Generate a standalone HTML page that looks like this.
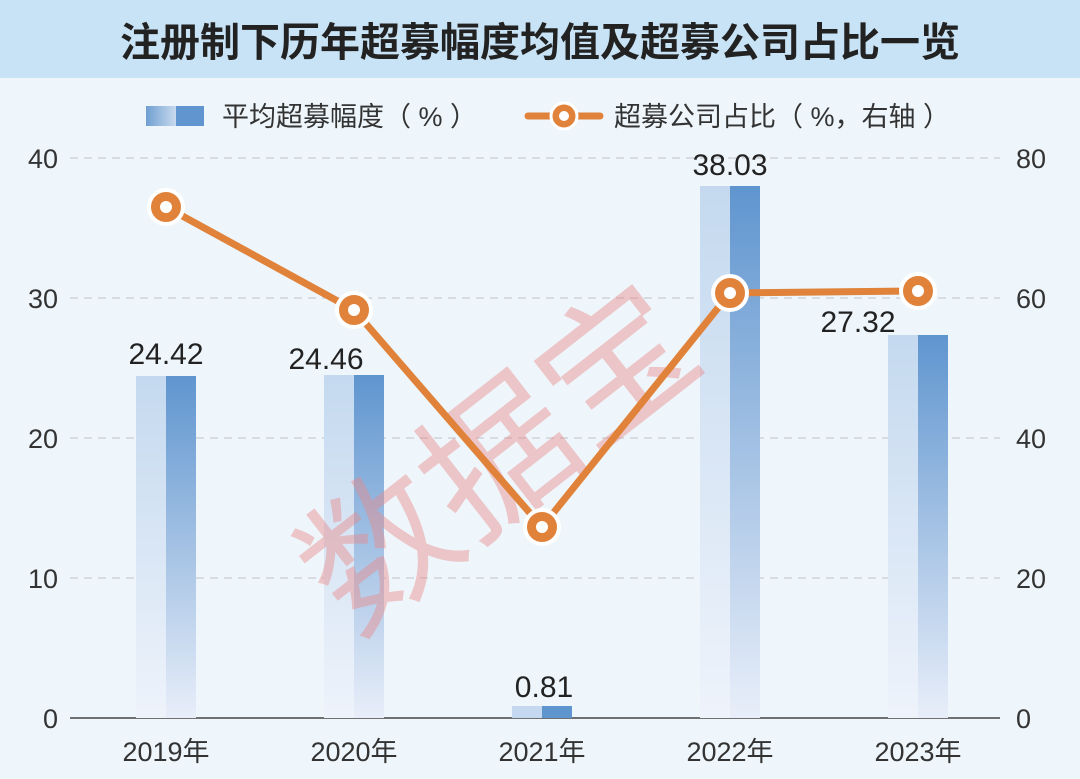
<!DOCTYPE html>
<html><head><meta charset="utf-8"><style>
body{margin:0;width:1080px;height:779px;overflow:hidden;background:#eef6fb;font-family:"Liberation Sans","Noto Sans CJK SC",sans-serif}
</style></head><body>
<svg width="1080" height="779" xmlns="http://www.w3.org/2000/svg" style="position:absolute;left:0;top:0">
<defs>
<linearGradient id="bl" x1="0" y1="0" x2="0" y2="1"><stop offset="0" stop-color="#c4d9ef"/><stop offset="1" stop-color="#eef3fb"/></linearGradient>
<linearGradient id="br" x1="0" y1="0" x2="0" y2="1"><stop offset="0" stop-color="#5f95cf"/><stop offset="1" stop-color="#e8eef9"/></linearGradient>
<linearGradient id="lg" x1="0" y1="0" x2="1" y2="0"><stop offset="0" stop-color="#6f9fd2"/><stop offset="1" stop-color="#c9daee"/></linearGradient>
</defs>
<rect x="0" y="0" width="1080" height="78" fill="#c8e3f5"/>
<text x="540" y="56" text-anchor="middle" font-size="40" font-weight="bold" fill="#222" font-family="Liberation Sans,Noto Sans CJK SC,sans-serif">注册制下历年超募幅度均值及超募公司占比一览</text>
<rect x="146" y="106" width="30" height="20" fill="url(#lg)"/><rect x="176" y="106" width="28" height="20" fill="#6195cf"/>
<text x="222" y="126" font-size="27" fill="#333">平均超募幅度（ % ）</text>
<line x1="528" y1="116" x2="600" y2="116" stroke="#e0823a" stroke-width="7" stroke-linecap="round"/>
<circle cx="564" cy="116" r="13" fill="#e0823a" stroke="#fff" stroke-width="3"/><circle cx="564" cy="116" r="5" fill="#fff"/>
<text x="614" y="126" font-size="27" fill="#333">超募公司占比（ %，右轴 ）</text>
<g stroke="#c8ccd2" stroke-width="1.2" stroke-dasharray="8,6">
<line x1="70" y1="158" x2="1000" y2="158"/><line x1="70" y1="298" x2="1000" y2="298"/><line x1="70" y1="438" x2="1000" y2="438"/><line x1="70" y1="578" x2="1000" y2="578"/></g>
<line x1="70" y1="718" x2="1000" y2="718" stroke="#444" stroke-width="1.5"/>
<g font-size="27" fill="#333">
<text x="58" y="168" text-anchor="end">40</text><text x="58" y="308" text-anchor="end">30</text><text x="58" y="448" text-anchor="end">20</text><text x="58" y="588" text-anchor="end">10</text><text x="58" y="728" text-anchor="end">0</text>
<text x="1016" y="168">80</text><text x="1016" y="308">60</text><text x="1016" y="448">40</text><text x="1016" y="588">20</text><text x="1016" y="728">0</text>
<text x="166" y="761" text-anchor="middle">2019年</text><text x="354" y="761" text-anchor="middle">2020年</text><text x="542" y="761" text-anchor="middle">2021年</text><text x="730" y="761" text-anchor="middle">2022年</text><text x="918" y="761" text-anchor="middle">2023年</text>
</g>
<g>
<rect x="136" y="376" width="30" height="342" fill="url(#bl)"/><rect x="166" y="376" width="30" height="342" fill="url(#br)"/>
<rect x="324" y="375" width="30" height="343" fill="url(#bl)"/><rect x="354" y="375" width="30" height="343" fill="url(#br)"/>
<rect x="512" y="706" width="30" height="12" fill="#c4d9ef"/><rect x="542" y="706" width="30" height="12" fill="#5f95cf"/>
<rect x="700" y="186" width="30" height="532" fill="url(#bl)"/><rect x="730" y="186" width="30" height="532" fill="url(#br)"/>
<rect x="888" y="335" width="30" height="383" fill="url(#bl)"/><rect x="918" y="335" width="30" height="383" fill="url(#br)"/>
</g>
<g font-size="30" fill="#222" text-anchor="middle">
<text x="166" y="364">24.42</text><text x="326" y="369">24.46</text><text x="544" y="697">0.81</text><text x="730" y="175">38.03</text><text x="858" y="332">27.32</text>
</g>
<text x="500" y="510" font-size="150" fill="#e88a8a" fill-opacity="0.45" text-anchor="middle" transform="rotate(-38 500 460)" font-family="Liberation Sans,Noto Sans CJK SC,sans-serif">数据宝</text>
<polyline points="166,207 354,310 542,527 730,293 918,291" fill="none" stroke="#e0823a" stroke-width="7" stroke-linejoin="round"/>
<g fill="#e0823a" stroke="#fff" stroke-width="4">
<circle cx="166" cy="207" r="17"/><circle cx="354" cy="310" r="17"/><circle cx="542" cy="527" r="17"/><circle cx="730" cy="293" r="17"/><circle cx="918" cy="291" r="17"/></g>
<g fill="#fff"><circle cx="166" cy="207" r="6"/><circle cx="354" cy="310" r="6"/><circle cx="542" cy="527" r="6"/><circle cx="730" cy="293" r="6"/><circle cx="918" cy="291" r="6"/></g>
</svg>
</body></html>
